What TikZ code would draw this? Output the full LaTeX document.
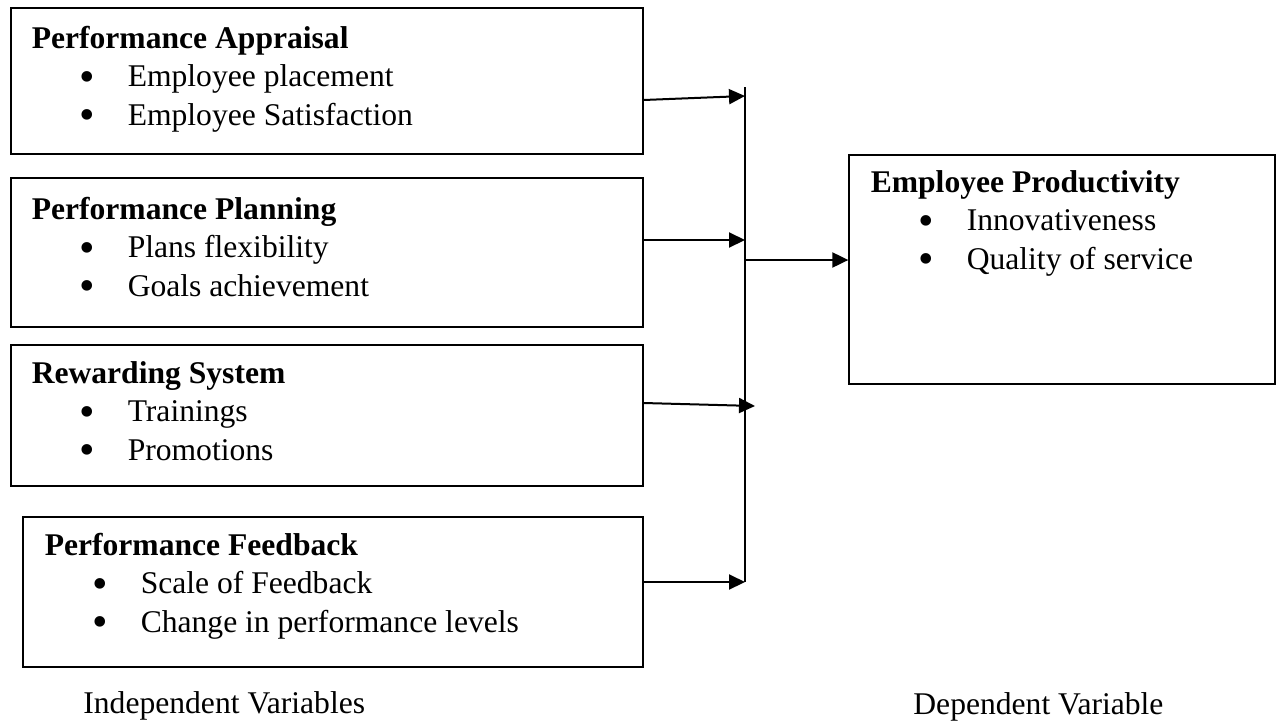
\documentclass[tikz,border=0pt]{standalone}
\usepackage{fontspec}
\usepackage{graphicx}
\setmainfont{Liberation Serif}
\usetikzlibrary{arrows.meta, positioning}

\newcommand{\vitem}[1]{\makebox[48pt][l]{\hspace*{24pt}\smash{\raisebox{-2.2pt}{\scalebox{1.4}{\textbullet}}}}#1}

\begin{document}
\begin{tikzpicture}[
    x=0.5pt, y=-0.5pt,
    vbox/.style={draw,line width=0.65pt,inner sep=0pt},
    vtext/.style={anchor=base west,align=left,inner sep=0pt,
                  font=\fontsize{15.8}{19.25}\selectfont},
    arr/.style={-{Triangle[length=8pt,width=7.5pt]},line width=1pt},
    bus/.style={line width=0.65pt}
]
  \useasboundingbox (0,0) rectangle (1284,723);

  % Independent variables
  \node[vbox,minimum width=316pt,minimum height=73pt] (apr) at (327,81) {};
  \node[vbox,minimum width=316pt,minimum height=74.5pt] (pln) at (327,252.5) {};
  \node[vbox,minimum width=316pt,minimum height=70.5pt] (rew) at (327,415.5) {};
  \node[vbox,minimum width=310pt,minimum height=75pt] (fdb) at (333,592) {};

  % Dependent variable
  \node[vbox,minimum width=213pt,minimum height=114.5pt] (prod) at (1062,269.5) {};

  % Box texts (anchored at the last line)
  \node[vtext] (aprtxt) at ([shift={(21,118)}]apr.north west)
    {\textbf{Performance Appraisal}\\\vitem{Employee placement}\\\vitem{Employee Satisfaction}};
  \node[vtext] (plntxt) at ([shift={(21,119)}]pln.north west)
    {\textbf{Performance Planning}\\\vitem{Plans flexibility}\\\vitem{Goals achievement}};
  \node[vtext] (rewtxt) at ([shift={(21,116)}]rew.north west)
    {\textbf{Rewarding System}\\\vitem{Trainings}\\\vitem{Promotions}};
  \node[vtext] (fdbtxt) at ([shift={(22,116)}]fdb.north west)
    {\textbf{Performance Feedback}\\\vitem{Scale of Feedback}\\\vitem{Change in performance levels}};
  \node[vtext] (prodtxt) at ([shift={(22,115)}]prod.north west)
    {\textbf{Employee Productivity}\\\vitem{Innovativeness}\\\vitem{Quality of service}};

  % Bus line
  \coordinate (bustop) at (745,87);
  \coordinate (busbot) at (745,582);
  \draw[bus] (bustop) -- (busbot);

  % Arrows
  \coordinate (t1) at (745,96);
  \coordinate (t2) at (745,240);
  \coordinate (t3) at (755,406);
  \coordinate (t4) at (745,582);
  \coordinate (t5) at (745,260);
  \draw[arr] ([yshift=-9.5pt]apr.east) -- (t1);
  \draw[arr] ([yshift=6.25pt]pln.east) -- (t2);
  \draw[arr] ([yshift=6.25pt]rew.east) -- (t3);
  \draw[arr] ([yshift=5pt]fdb.east) -- (t4);
  \draw[arr] (t5) -- (t5 -| prod.west);

  % Captions
  \node[vtext] (indep) at (83,713) {Independent Variables};
  \node[vtext] (dep) at (913,714) {Dependent Variable};
\end{tikzpicture}
\end{document}
